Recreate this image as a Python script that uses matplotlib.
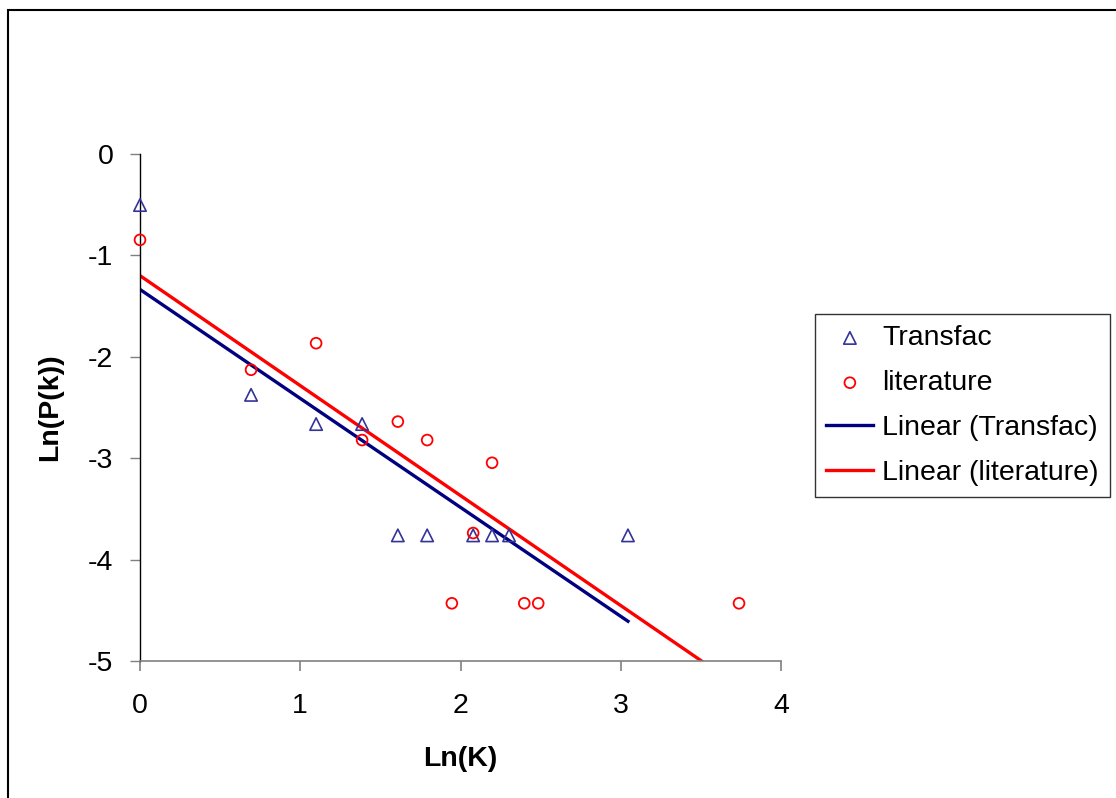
import numpy as np
import matplotlib
matplotlib.use("Agg")
import matplotlib.pyplot as plt
from matplotlib.patches import Rectangle

plt.rcParams['font.family'] = ['Liberation Sans', 'DejaVu Sans']

# Data (ln K, ln P(k))
transfac_x = [0.0, 0.693, 1.099, 1.386, 1.609, 1.792, 2.079, 2.197, 2.303, 3.045]
transfac_y = [-0.503, -2.375, -2.663, -2.663, -3.761, -3.761, -3.761, -3.761, -3.761, -3.761]
lit_x = [0.0, 0.693, 1.099, 1.386, 1.609, 1.792, 1.946, 2.079, 2.197, 2.398, 2.485, 3.738]
lit_y = [-0.847, -2.128, -1.866, -2.821, -2.639, -2.821, -4.431, -3.738, -3.045, -4.431, -4.431, -4.431]
xticks = [0, 1, 2, 3, 4]
yticks = [0, -1, -2, -3, -4, -5]

FS = 20.5
fig = plt.figure(figsize=(11.16, 7.98), dpi=100)
W, H = 1116, 798
ax = fig.add_axes([140 / W, 1 - 661 / H, (781 - 140) / W, (661 - 154) / H])

# outer frame
fig.patches.append(Rectangle((8 / W, -0.05), 1.2, 1 - 10 / H + 0.05, transform=fig.transFigure,
                             fill=False, edgecolor='black', linewidth=1.5))

tri_col = '#333399'
ax.scatter(transfac_x, transfac_y, marker='^', s=80, facecolors='none', edgecolors=tri_col,
           linewidths=1.2, label='Transfac', zorder=3, clip_on=False)
ax.scatter(lit_x, lit_y, marker='o', s=60, facecolors='none', edgecolors='#ff0000',
           linewidths=1.3, label='literature', zorder=3, clip_on=False)

def fit_line(xs, ys):
    xs = np.asarray(xs); ys = np.asarray(ys)
    m, b = np.polyfit(xs, ys, 1)
    xx = np.array([xs.min(), xs.max()])
    return xx, m * xx + b

fx, fy = fit_line(transfac_x, transfac_y)
ax.plot(fx, fy, color='#000080', lw=2.4, label='Linear (Transfac)', zorder=2)
fx, fy = fit_line(lit_x, lit_y)
ax.plot(fx, fy, color='#ff0000', lw=2.4, label='Linear (literature)', zorder=2)

ax.set_xlim(0, 4)
ax.set_ylim(-5, 0)
ax.set_xticks(xticks)
ax.set_yticks(yticks)
ax.set_xticklabels([str(t) for t in xticks])
ax.set_yticklabels([str(t) for t in yticks])
for s in ['top', 'right']:
    ax.spines[s].set_visible(False)
ax.spines['left'].set_color('black')
ax.spines['bottom'].set_color('#808080')
ax.spines['left'].set_linewidth(1.0)
ax.spines['bottom'].set_linewidth(1.2)
ax.tick_params(axis='x', direction='out', length=7.2, width=1.2, color='#808080',
               labelsize=FS, pad=16)
ax.tick_params(axis='y', direction='out', length=7.2, width=1.0, color='#808080',
               labelsize=FS, pad=12)

ax.set_xlabel('Ln(K)', fontsize=FS, fontweight='bold', labelpad=19)
ax.set_ylabel('Ln(P(k))', fontsize=FS, fontweight='bold', labelpad=18)

leg = ax.legend(loc='upper left', bbox_to_anchor=((815 - 140) / (781 - 140), 1 - (314 - 154) / (661 - 154)),
                fontsize=FS, frameon=True, fancybox=False, edgecolor='black',
                handlelength=1.65, handletextpad=0.3, borderpad=0.4, labelspacing=0.66,
                borderaxespad=0)
leg.get_frame().set_linewidth(1.0)

fig.savefig('out.png', dpi=100)
